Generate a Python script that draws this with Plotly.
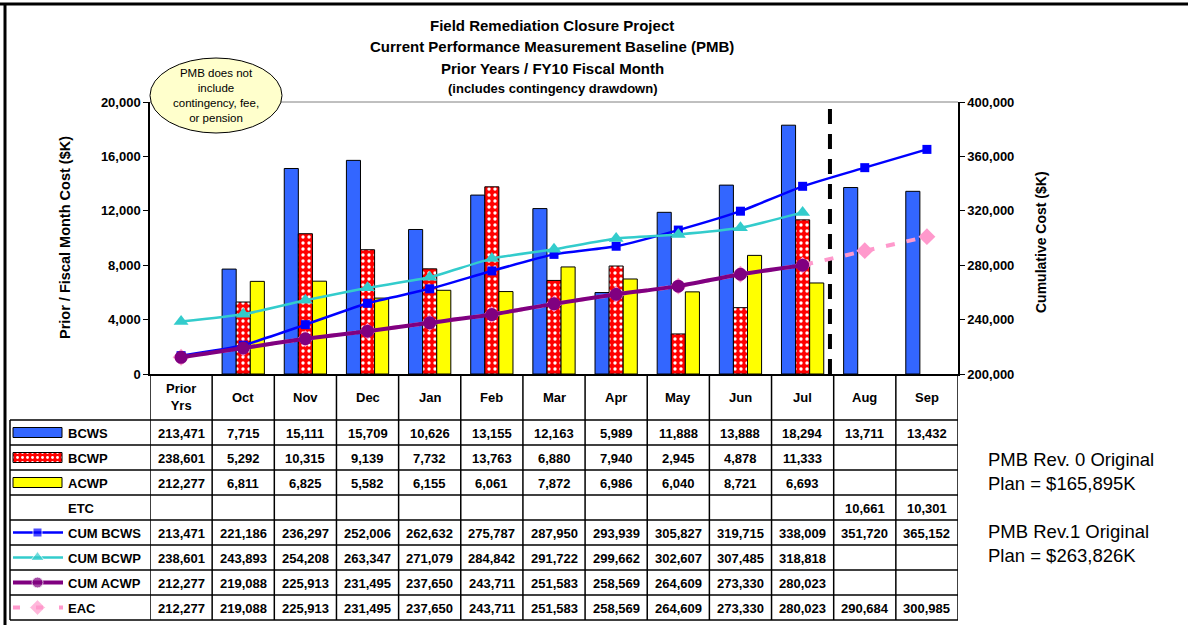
import plotly.graph_objects as go

W, H = 1188, 625

# Datos del grafico
meses = ["Prior Yrs", "Oct", "Nov", "Dec", "Jan", "Feb", "Mar", "Apr", "May", "Jun", "Jul", "Aug", "Sep"]
encabezados = ["Prior<br>Yrs", "Oct", "Nov", "Dec", "Jan", "Feb", "Mar", "Apr", "May", "Jun", "Jul", "Aug", "Sep"]

bcws = [213471, 7715, 15111, 15709, 10626, 13155, 12163, 5989, 11888, 13888, 18294, 13711, 13432]
bcwp = [238601, 5292, 10315, 9139, 7732, 13763, 6880, 7940, 2945, 4878, 11333, None, None]
acwp = [212277, 6811, 6825, 5582, 6155, 6061, 7872, 6986, 6040, 8721, 6693, None, None]
etc = [None] * 11 + [10661, 10301]

cum_bcws = [213471, 221186, 236297, 252006, 262632, 275787, 287950, 293939, 305827, 319715, 338009, 351720, 365152]
cum_bcwp = [238601, 243893, 254208, 263347, 271079, 284842, 291722, 299662, 302607, 307485, 318818, None, None]
cum_acwp = [212277, 219088, 225913, 231495, 237650, 243711, 251583, 258569, 264609, 273330, 280023, None, None]
eac = [212277, 219088, 225913, 231495, 237650, 243711, 251583, 258569, 264609, 273330, 280023, 290684, 300985]

titulo = ["Field Remediation Closure Project",
          "Current Performance Measurement Baseline (PMB)",
          "Prior Years / FY10 Fiscal Month",
          "(includes contingency drawdown)"]

FUENTE = "Arial, Liberation Sans, sans-serif"
AZUL_BARRA = "#3366FF"
ROJO = "#FF0000"
AMARILLO = "#FFFF00"
AZUL = "#0000FF"
TURQUESA = "#33CCCC"
MORADO = "#800080"
ROSA = "#FF99CC"


def px(x):
    return x / W


def py(y):
    return 1 - y / H


def texto(t, x, y, tam, xref="paper", xanchor="center", **extra):
    # Anotacion con anclas fijas (evita el "auto" de plotly)
    d = dict(text=t, x=x, y=y, xref=xref, yref="paper", xanchor=xanchor, yanchor="middle",
             showarrow=False, font=dict(size=tam, color="black"))
    d.update(extra)
    return d


fig = go.Figure()

# Barras mensuales (sin la columna Prior Yrs)
fig.add_trace(go.Bar(x=meses[1:], y=bcws[1:], name="BCWS",
                     marker=dict(color=AZUL_BARRA, line=dict(color="black", width=1))))
fig.add_trace(go.Bar(x=meses[1:], y=bcwp[1:], name="BCWP",
                     marker=dict(color=ROJO, line=dict(color="black", width=1),
                                 pattern=dict(shape=".", fgcolor="white", bgcolor=ROJO,
                                              size=6, solidity=0.25))))
fig.add_trace(go.Bar(x=meses[1:], y=acwp[1:], name="ACWP",
                     marker=dict(color=AMARILLO, line=dict(color="black", width=1))))

# Lineas acumuladas en el eje derecho
fig.add_trace(go.Scatter(x=meses, y=eac, name="EAC", yaxis="y2", mode="lines+markers",
                         line=dict(color=ROSA, width=4, dash="9px,12px"),
                         marker=dict(symbol="diamond", size=13, color=ROSA)))
fig.add_trace(go.Scatter(x=meses, y=cum_bcws, name="CUM BCWS", yaxis="y2", mode="lines+markers",
                         line=dict(color=AZUL, width=2.5, shape="spline", smoothing=0.5),
                         marker=dict(symbol="square", size=9, color=AZUL)))
fig.add_trace(go.Scatter(x=meses, y=cum_bcwp, name="CUM BCWP", yaxis="y2", mode="lines+markers",
                         line=dict(color=TURQUESA, width=2.5, shape="spline", smoothing=0.5),
                         marker=dict(symbol="triangle-up", size=13, color=TURQUESA)))
fig.add_trace(go.Scatter(x=meses, y=cum_acwp, name="CUM ACWP", yaxis="y2", mode="lines+markers",
                         line=dict(color=MORADO, width=4, shape="spline", smoothing=0.5),
                         marker=dict(symbol="circle", size=13, color=MORADO)))

# Simbolos de la leyenda dentro de la tabla (eje auxiliar en pixeles)
filas_y = [420 + 25 * i for i in range(9)]
centros = [(filas_y[i] + filas_y[i + 1]) / 2 for i in range(8)]


def rectangulo(yc):
    return [13, 62, 62, 13, 13], [yc - 5, yc - 5, yc + 5, yc + 5, yc - 5]


for k, (color, patron) in enumerate([(AZUL_BARRA, None), (ROJO, "."), (AMARILLO, None)]):
    rx, ry = rectangulo(centros[k])
    fp = dict(shape=patron, fgcolor="white", bgcolor=ROJO, size=5, solidity=0.25) if patron else None
    fig.add_trace(go.Scatter(x=rx, y=ry, xaxis="x3", yaxis="y3", mode="lines", fill="toself",
                             fillcolor=color, fillpattern=fp, line=dict(color="black", width=1),
                             hoverinfo="skip"))

simbolos = [(AZUL, "square", 9, 2.5, "solid"),
            (TURQUESA, "triangle-up", 12, 2.5, "solid"),
            (MORADO, "circle", 11, 4, "solid"),
            (ROSA, "diamond", 12, 4, "7px,16px")]
for k, (color, sym, size, ancho, dash) in enumerate(simbolos):
    yc = centros[4 + k]
    fig.add_trace(go.Scatter(x=[13, 37.5, 63], y=[yc, yc, yc], xaxis="x3", yaxis="y3",
                             mode="lines+markers", line=dict(color=color, width=ancho, dash=dash),
                             marker=dict(symbol=sym, size=[0, size, 0], color=color),
                             hoverinfo="skip"))

# Lineas de la tabla y marcos
lineas = []
lineas.append(dict(type="line", xref="paper", yref="paper", x0=0, x1=1, y0=py(4), y1=py(4),
                   line=dict(color="black", width=3)))
lineas.append(dict(type="line", xref="paper", yref="paper", x0=px(5), x1=px(5), y0=py(4), y1=0,
                   line=dict(color="black", width=3)))
lineas.append(dict(type="line", xref="x domain", yref="y domain", x0=0, x1=1, y0=1, y1=1,
                   line=dict(color="#808080", width=1)))
for yy in filas_y:
    lineas.append(dict(type="line", xref="paper", yref="paper", x0=px(10), x1=px(958),
                       y0=py(yy), y1=py(yy), line=dict(color="black", width=1.5)))
lineas.append(dict(type="line", xref="paper", yref="paper", x0=px(10), x1=px(10),
                   y0=py(420), y1=py(620), line=dict(color="black", width=1.5)))
for i in range(len(meses) + 1):
    lineas.append(dict(type="line", xref="x", yref="paper", x0=i - 0.5, x1=i - 0.5,
                       y0=py(374), y1=py(620), line=dict(color="black", width=1.5)))

# Linea vertical discontinua entre Jul y Aug
lineas.append(dict(type="line", xref="x", yref="y domain", x0=10.44, x1=10.44, y0=0, y1=1,
                   layer="below", line=dict(color="black", width=4, dash="15px,10px")))

# Globo de texto
lineas.append(dict(type="circle", xref="paper", yref="paper", x0=px(150), x1=px(282),
                   y0=py(58), y1=py(133), fillcolor="#FFFFCC", line=dict(color="black", width=1)))

anot = []
# Titulo
for t, yy, tam in zip(titulo, [25, 46, 68, 89], [15, 15, 15, 13]):
    anot.append(texto(f"<b>{t}</b>", px(552), py(yy), tam))

anot.append(texto("PMB does not<br>include<br>contingency, fee,<br>or pension", px(216), py(95), 11.5))

# Titulos de ejes
anot.append(texto("<b>Prior / Fiscal Month Cost ($K)</b>", px(65), py(238), 14.5, textangle=-90))
anot.append(texto("<b>Cumulative Cost ($K)</b>", px(1041), py(242), 14, textangle=-90))

# Notas de la derecha
anot.append(texto("PMB Rev. 0 Original<br>Plan = $165,895K", px(986), py(471), 18.5,
                  xanchor="left", align="left"))
anot.append(texto("PMB Rev.1 Original<br>Plan = $263,826K", px(986), py(543), 18.5,
                  xanchor="left", align="left"))

# Encabezados de la tabla
for m, e in zip(meses, encabezados):
    anot.append(texto(f"<b>{e}</b>", m, py(397), 13, xref="x"))

# Valores de la tabla
filas = [("BCWS", bcws), ("BCWP", bcwp), ("ACWP", acwp), ("ETC", etc),
         ("CUM BCWS", cum_bcws), ("CUM BCWP", cum_bcwp), ("CUM ACWP", cum_acwp), ("EAC", eac)]
for k, (nombre, valores) in enumerate(filas):
    yc = centros[k] + 1
    anot.append(texto(f"<b>{nombre}</b>", px(66), py(yc), 13, xanchor="left"))
    for m, v in zip(meses, valores):
        if v is None:
            continue
        anot.append(texto(f"<b>{v:,}</b>", m, py(yc), 13, xref="x"))

eje_tick = dict(family=FUENTE, size=13, color="black", weight="bold")

fig.update_layout(
    width=W, height=H, template="none",
    margin=dict(l=0, r=0, t=0, b=0, pad=0),
    paper_bgcolor="white", plot_bgcolor="rgba(0,0,0,0)",
    font=dict(family=FUENTE, color="black"),
    showlegend=False,
    barmode="group", bargap=0.32, bargroupgap=0,
    xaxis=dict(domain=[px(150), px(958)], type="category", categoryorder="array", categoryarray=meses,
               range=[-0.5, 12.5], showticklabels=False, ticks="", showgrid=False, zeroline=False,
               showline=True, linecolor="black", linewidth=1.5, automargin=False),
    yaxis=dict(domain=[py(374), py(102)], range=[0, 20000], dtick=4000, tickformat=",",
               ticks="outside", ticklen=5, tickcolor="black", showline=True, linecolor="black",
               linewidth=1.5, showgrid=False, zeroline=False, tickfont=eje_tick, automargin=False),
    yaxis2=dict(overlaying="y", side="right", anchor="x", range=[200000, 400000], dtick=40000,
                tickformat=",", ticks="outside", ticklen=5, tickcolor="black", showline=True,
                linecolor="black", linewidth=1.5, showgrid=False, zeroline=False, tickfont=eje_tick,
                automargin=False),
    xaxis3=dict(domain=[0, 1], range=[0, W], visible=False, anchor="y3", fixedrange=True),
    yaxis3=dict(domain=[0, 1], range=[H, 0], visible=False, anchor="x3", fixedrange=True),
    shapes=lineas,
    annotations=anot,
)

# Quitar el margen por defecto de la pagina para que la figura quede en (0, 0)
fig.write_html("out.html", config={"displayModeBar": False},
               post_script="document.body.style.margin = '0px';")
